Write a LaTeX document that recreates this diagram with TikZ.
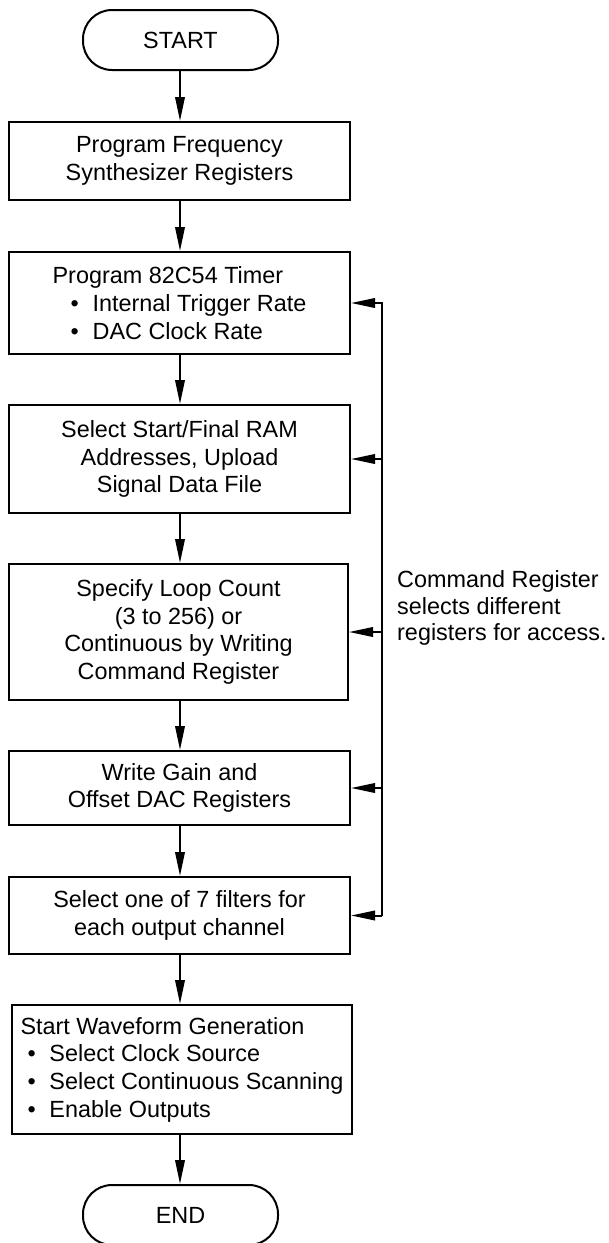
\documentclass[tikz,border=0pt]{standalone}
\usepackage{fontspec}
\setmainfont{Liberation Sans}
\usetikzlibrary{arrows.meta}
\begin{document}
\begin{tikzpicture}[x=1pt,y=-1pt,
  box/.style={draw, line width=2pt, rectangle, minimum width=341pt, align=center, inner sep=0pt,
    font=\fontsize{23.4}{27.7}\selectfont},
  term/.style={draw, line width=2pt, rectangle, rounded corners=29pt, minimum width=195pt, minimum height=60pt,
    inner sep=0pt, font=\fontsize{23.4}{27.7}\selectfont},
  arr/.style={line width=2pt, -{Triangle[length=24pt,width=9.5pt]}},
  bus/.style={line width=2pt}]
\useasboundingbox (0,0) rectangle (609,1243);
\clip (0,0) rectangle (609,1243);
\node[term] (start) at (180.5,40) {START};
\node[box, minimum height=78pt] (b1) at (179.5,161) {Program Frequency\\Synthesizer Registers};
\node[box, minimum height=102pt, align=left] (b2) at (179.5,303) {Program 82C54 Timer\\
  \hspace*{18pt}\makebox[22pt][l]{\textbullet}Internal Trigger Rate\\
  \hspace*{18pt}\makebox[22pt][l]{\textbullet}DAC Clock Rate};
\node[box, minimum height=108pt] (b3) at (179.5,459) {Select Start/Final RAM\\Addresses, Upload\\Signal Data File};
\node[box, minimum height=136pt, minimum width=339pt] (b4) at (178.5,632) {Specify Loop Count\\(3 to 256) or\\Continuous by Writing\\Command Register};
\node[box, minimum height=74pt] (b5) at (179.5,788) {Write Gain and\\Offset DAC Registers};
\node[box, minimum height=77pt] (b6) at (179.5,915.5) {Select one of 7 filters for\\each output channel};
\node[box, minimum height=129pt, minimum width=340pt, align=left] (b7) at (182,1069.5) {Start Waveform Generation\\
  \hspace*{7pt}\makebox[22pt][l]{\textbullet}Select Clock Source\\
  \hspace*{7pt}\makebox[22pt][l]{\textbullet}Select Continuous Scanning\\
  \hspace*{7pt}\makebox[22pt][l]{\textbullet}Enable Outputs};
\node[term] (end) at (180.5,1215) {END};
\node[anchor=west, align=left, inner sep=0pt, font=\fontsize{23.4}{26.7}\selectfont] (lbl) at (397,608)
  {Command Register\\selects different\\registers for access.};
\coordinate (bx) at (382,600);
\draw[arr] (start.south -| 180,0) -- (b1.north -| 180,0);
\draw[arr] (b1.south -| 180,0) -- (b2.north -| 180,0);
\draw[arr] (b2.south -| 180,0) -- (b3.north -| 180,0);
\draw[arr] (b3.south -| 180,0) -- (b4.north -| 180,0);
\draw[arr] (b4.south -| 180,0) -- (b5.north -| 180,0);
\draw[arr] (b5.south -| 180,0) -- (b6.north -| 180,0);
\draw[arr] (b6.south -| 180,0) -- (b7.north -| 180,0);
\draw[arr] (b7.south -| 180,0) -- (end.north -| 180,0);
\draw[arr] (b6.east -| bx) -- (b2.east -| bx) -- (b2.east);
\draw[arr] (b6.east -| bx) -- (b6.east);
\draw[arr] (b3.east -| bx) -- (b3.east);
\draw[arr] (b4.east -| bx) -- (b4.east);
\draw[arr] (b5.east -| bx) -- (b5.east);
\end{tikzpicture}
\end{document}
